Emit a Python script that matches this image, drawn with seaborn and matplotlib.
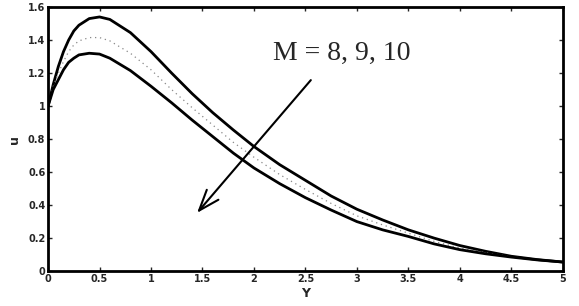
import pandas as pd
import seaborn as sns
import matplotlib.pyplot as plt

# Values
y_pts = [0, 0.05, 0.1, 0.15, 0.2, 0.25, 0.3, 0.4, 0.5, 0.6, 0.8, 1.0, 1.2, 1.4, 1.6,
         1.8, 2.0, 2.25, 2.5, 2.75, 3.0, 3.25, 3.5, 3.75, 4.0, 4.25, 4.5, 4.75, 5.0]
u_m8 = [1.00, 1.13, 1.24, 1.33, 1.40, 1.455, 1.49, 1.53, 1.54, 1.525, 1.445, 1.33, 1.20,
        1.075, 0.96, 0.855, 0.755, 0.645, 0.55, 0.455, 0.375, 0.31, 0.25, 0.20, 0.155,
        0.12, 0.09, 0.07, 0.055]
u_m9 = [1.00, 1.12, 1.20, 1.27, 1.33, 1.37, 1.395, 1.415, 1.415, 1.395, 1.32, 1.22, 1.10,
        0.99, 0.885, 0.78, 0.69, 0.585, 0.495, 0.41, 0.335, 0.28, 0.23, 0.18, 0.14,
        0.112, 0.087, 0.069, 0.055]
u_m10 = [1.00, 1.10, 1.16, 1.22, 1.265, 1.29, 1.31, 1.32, 1.315, 1.29, 1.215, 1.12, 1.02,
         0.915, 0.815, 0.715, 0.625, 0.53, 0.445, 0.37, 0.30, 0.25, 0.21, 0.165, 0.13,
         0.105, 0.085, 0.068, 0.055]

x_ticks = [0, 0.5, 1, 1.5, 2, 2.5, 3, 3.5, 4, 4.5, 5]
x_labels = ['0', '0.5', '1', '1.5', '2', '2.5', '3', '3.5', '4', '4.5', '5']
y_ticks = [0, 0.2, 0.4, 0.6, 0.8, 1, 1.2, 1.4, 1.6]
y_labels = ['0', '0.2', '0.4', '0.6', '0.8', '1', '1.2', '1.4', '1.6']

sns.set_style("ticks")
plt.rcParams['font.family'] = ['DejaVu Sans']

df = pd.DataFrame({'Y': y_pts, 'M8': u_m8, 'M9': u_m9, 'M10': u_m10})

fig = plt.figure(figsize=(5.79, 3.06), dpi=100)
ax = fig.add_axes([0.083, 0.114, 0.889, 0.863])

sns.lineplot(data=df, x='Y', y='M8', ax=ax, color='black', linewidth=2.0)
sns.lineplot(data=df, x='Y', y='M9', ax=ax, color='#888888', linewidth=0.9,
             linestyle=(0, (1, 3)))
sns.lineplot(data=df, x='Y', y='M10', ax=ax, color='black', linewidth=2.0)

ax.set_xlim(0, 5)
ax.set_ylim(0, 1.6)
ax.set_xticks(x_ticks)
ax.set_xticklabels(x_labels, fontsize=7, fontweight='bold')
ax.set_yticks(y_ticks)
ax.set_yticklabels(y_labels, fontsize=7, fontweight='bold')
ax.tick_params(direction='in', length=3, width=1, top=True, right=True, pad=2)
for sp in ax.spines.values():
    sp.set_linewidth(2)
    sp.set_color('black')

ax.set_xlabel('Y', fontsize=9, fontweight='bold', labelpad=2)
ax.set_ylabel('u', fontsize=9, fontweight='bold', labelpad=5)

ax.annotate('', xy=(1.43, 0.34), xytext=(2.57, 1.17),
            arrowprops=dict(arrowstyle='->,head_length=1.5,head_width=0.55',
                            color='black', lw=1.5))
ax.text(2.85, 1.32, 'M = 8, 9, 10', fontsize=20, family='Liberation Serif',
        ha='center', va='center')

plt.savefig('out.png', dpi=100)
plt.close()
